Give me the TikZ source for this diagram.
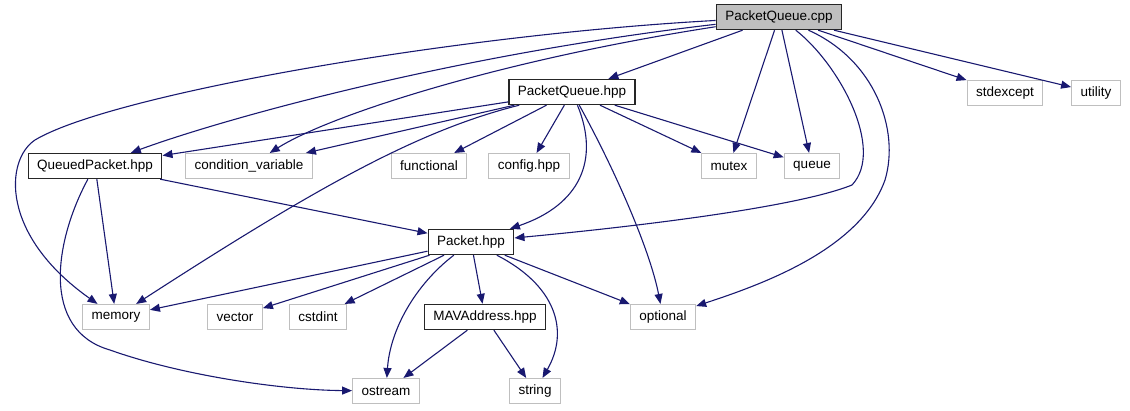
\documentclass[tikz,border=0pt]{standalone}
\usepackage{fontspec}
\setmainfont{Liberation Sans}
\usetikzlibrary{positioning,arrows.meta}
\definecolor{edgeblue}{RGB}{25,25,112}
\definecolor{boxgray}{RGB}{191,191,191}

\begin{document}
\begin{tikzpicture}[x=1pt,y=-1pt]
\tikzset{F/.style={rectangle,draw=black!85,line width=1.4pt,minimum height=25pt,inner xsep=9pt,inner ysep=0pt,font=\fontsize{13.5}{15}\selectfont},
  S/.style={F,draw=boxgray,line width=1.1pt},
  E/.style={draw=edgeblue,line width=1.1pt,-{Triangle[length=10pt,width=8pt]}}}

  \useasboundingbox (0,0) rectangle (1130,411);

  \node[F,fill=boxgray] (cpp) at (779,17) {PacketQueue.cpp};
  \node[F] (hpp)  at (572,92)  {PacketQueue.hpp};
  \node[S] (stdx) at (1005,93) {stdexcept};
  \node[S] (util) at (1096,93) {utility};
  \node[F] (qp)   at (95,166)  {QueuedPacket.hpp};
  \node[S] (cv)   at (249,166) {condition\_variable};
  \node[S] (func) at (429,166) {functional};
  \node[S] (conf) at (529,166) {config.hpp};
  \node[S] (mtx)  at (729,166) {mutex};
  \node[S] (que)  at (812,166) {queue};
  \node[F] (pk)   at (471,242) {Packet.hpp};
  \node[S] (mem)  at (116,317) {memory};
  \node[S] (vec)  at (235,317) {vector};
  \node[S] (cst)  at (318,317) {cstdint};
  \node[F] (mav)  at (485,317) {MAVAddress.hpp};
  \node[S] (opt)  at (663,317) {optional};
  \node[S] (ost)  at (386,391) {ostream};
  \node[S] (str)  at (535,391) {string};

  % PacketQueue.cpp
  \draw[E] (cpp) .. controls (450,35) and (110,95) .. (35,140)
    .. controls (5,160) and (0,235) .. (mem);
  \draw[E] (cpp) .. controls (450,55) and (220,120) .. (qp);
  \draw[E] (cpp) .. controls (500,60) and (330,115) .. (cv);
  \draw[E] (cpp) -- (hpp);
  \draw[E] (cpp) -- (mtx);
  \draw[E] (cpp) -- (que);
  \draw[E] (cpp) .. controls (840,65) and (885,150) .. (852,185)
    .. controls (790,210) and (600,230) .. (pk);
  \draw[E] (cpp) .. controls (875,60) and (900,130) .. (885,180)
    .. controls (860,250) and (760,285) .. (opt);
  \draw[E] (cpp) -- (stdx);
  \draw[E] (cpp) -- (util);

  % PacketQueue.hpp
  \draw[E] (hpp) -- (qp);
  \draw[E] (hpp) -- (cv);
  \draw[E] (hpp) .. controls (420,130) and (320,185) .. (mem);
  \draw[E] (hpp) -- (func);
  \draw[E] (hpp) -- (conf);
  \draw[E] (hpp) -- (mtx);
  \draw[E] (hpp) -- (que);
  \draw[E] (hpp) .. controls (600,160) and (580,205) .. (pk);
  \draw[E] (hpp) .. controls (615,170) and (650,250) .. (opt);

  % QueuedPacket.hpp
  \draw[E] (qp) -- (mem);
  \draw[E] (qp) .. controls (55,240) and (40,330) .. (110,350)
    .. controls (180,375) and (280,390) .. (ost);
  \draw[E] (qp) -- (pk);

  % Packet.hpp
  \draw[E] (pk) -- (mem);
  \draw[E] (pk) -- (vec);
  \draw[E] (pk) -- (cst);
  \draw[E] (pk) .. controls (415,285) and (390,330) .. (ost);
  \draw[E] (pk) -- (mav);
  \draw[E] (pk) .. controls (555,285) and (570,330) .. (str);
  \draw[E] (pk) -- (opt);

  % MAVAddress.hpp
  \draw[E] (mav) -- (ost);
  \draw[E] (mav) -- (str);
\end{tikzpicture}
\end{document}
